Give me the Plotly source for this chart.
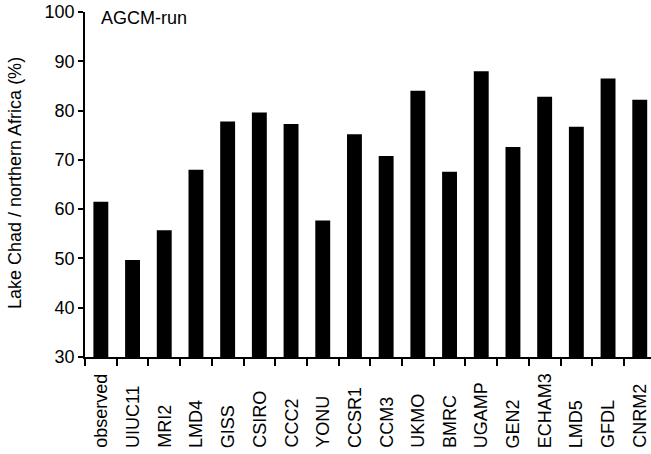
import plotly.graph_objects as go

# Lake Chad / northern Africa ratio per model run (%)
models = ["observed", "UIUC11", "MRI2", "LMD4", "GISS", "CSIRO", "CCC2", "YONU",
          "CCSR1", "CCM3", "UKMO", "BMRC", "UGAMP", "GEN2", "ECHAM3", "LMD5",
          "GFDL", "CNRM2"]
ratio = [61.5, 49.7, 55.7, 68.0, 77.8, 79.6, 77.3, 57.7, 75.2, 70.8, 84.0,
         67.6, 88.0, 72.6, 82.8, 76.7, 86.5, 82.2]
y_ticks = [30, 40, 50, 60, 70, 80, 90, 100]

W, H = 651, 454
ML, MR, MT, MB = 85, 0, 12, 97
plot_w = W - ML - MR
plot_h = H - MT - MB
cat_px = 31.7  # horizontal spacing of one category in pixels

FONT = "Liberation Sans, Arial, sans-serif"
FS = 18

fig = go.Figure(go.Bar(
    x=models,
    y=ratio,
    width=0.47,
    marker=dict(color="black", line=dict(width=0)),
))

annotations = []
# rotated category labels, bottom-aligned
for m in models:
    annotations.append(dict(
        x=m, xref="x", y=(plot_h - (450 - MT)) / plot_h, yref="paper",
        text=m, textangle=-90, showarrow=False,
        xanchor="center", yanchor="bottom",
        font=dict(family=FONT, size=FS, color="black"),
    ))
# y-axis title
annotations.append(dict(
    x=(14.5 - ML) / plot_w, xref="paper",
    y=(plot_h - (183.5 - MT)) / plot_h, yref="paper",
    text="Lake Chad / northern Africa (%)", textangle=-90, showarrow=False,
    xanchor="center", yanchor="middle",
    font=dict(family=FONT, size=FS, color="black"),
))
# panel label
annotations.append(dict(
    x=(99 - ML) / plot_w, xref="paper", y=1 + 6 / plot_h, yref="paper",
    text="AGCM-run", showarrow=False, xanchor="left", yanchor="top",
    font=dict(family=FONT, size=FS, color="black"),
))

fig.update_layout(
    width=W, height=H,
    margin=dict(l=ML, r=MR, t=MT, b=MB, pad=0),
    paper_bgcolor="white", plot_bgcolor="white",
    showlegend=False,
    annotations=annotations,
    xaxis=dict(
        type="category",
        range=[-0.5, -0.5 + plot_w / cat_px],
        showline=True, linecolor="black", linewidth=1.5,
        ticks="outside", tickson="boundaries", ticklen=7, tickwidth=1.5,
        tickcolor="black", showticklabels=False,
        showgrid=False, zeroline=False,
    ),
    yaxis=dict(
        range=[30, 100], tickvals=y_ticks,
        showline=True, linecolor="black", linewidth=1.5,
        ticks="outside", ticklen=5, tickwidth=1.5, tickcolor="black",
        tickfont=dict(family=FONT, size=FS, color="black"),
        showgrid=False, zeroline=False,
    ),
)

fig.write_html("out.html")
